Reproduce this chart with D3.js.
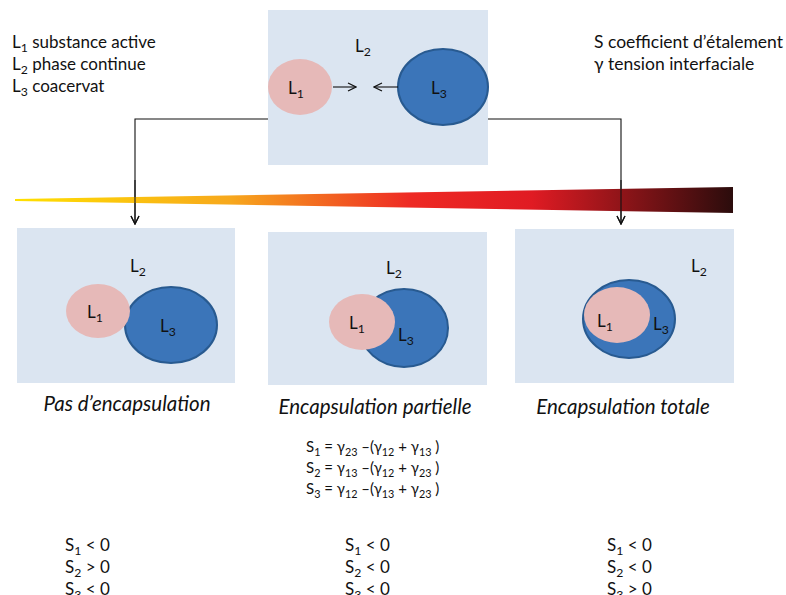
<!DOCTYPE html>
<html>
<head>
<meta charset="utf-8">
<script src="https://cdn.jsdelivr.net/npm/d3@7"></script>
<style>
  body { margin: 0; background: #fff; }
  svg text { font-family: Lato, "Open Sans", sans-serif; fill: #111; }
</style>
</head>
<body>
<div id="chart"></div>
<script>
// text content
const legendLeft = ["L_1 substance active", "L_2 phase continue", "L_3 coacervat"];
const legendRight = ["S coefficient d\u2019étalement", "\u03b3 tension interfaciale"];
const captions = ["Pas d\u2019encapsulation", "Encapsulation partielle", "Encapsulation totale"];
const equations = [
  "S_1 = \u03b3_23 \u2013(\u03b3_12 + \u03b3_13 )",
  "S_2 = \u03b3_13 \u2013(\u03b3_12 + \u03b3_23 )",
  "S_3 = \u03b3_12 \u2013(\u03b3_13 + \u03b3_23 )"
];
const conditions = [
  ["S_1 < 0", "S_2 > 0", "S_3 < 0"],
  ["S_1 < 0", "S_2 < 0", "S_3 < 0"],
  ["S_1 < 0", "S_2 < 0", "S_3 > 0"]
];
const gradientStops = [
  ["0%", "#ffe000"], ["30%", "#f7a81d"], ["55%", "#ee2a24"],
  ["72%", "#e01b23"], ["100%", "#2b0c0c"]
];

// layout (pixel positions of the drawing)
const topPanel = { x: 268, y: 10, w: 220, h: 155,
  l1: [300, 87, 32, 28], l3: [443, 87, 45, 38], l2: [355, 52] };
const panels = [
  { x: 17, y: 228, w: 218, h: 155, l1: [98, 311, 32, 27], l3: [171, 325, 46, 38],
    l2: [130, 272], t1: [87, 318], t3: [160, 332], cap: [127, 411] },
  { x: 268, y: 232, w: 219, h: 153, l1: [362, 322, 33, 28], l3: [404, 328, 44, 39],
    l2: [386, 274], t1: [349, 329], t3: [398, 341], cap: [375, 414] },
  { x: 515, y: 229, w: 219, h: 154, l1: [617, 315, 33, 28], l3: [629, 319, 46, 39],
    l2: [691, 272], t1: [597, 327], t3: [653, 330], cap: [623, 414] }
];

const W = 786, H = 595;
const svg = d3.select("#chart").append("svg").attr("width", W).attr("height", H);
const defs = svg.append("defs");

defs.append("marker")
  .attr("id", "arr").attr("viewBox", "0 0 10 10")
  .attr("refX", 9).attr("refY", 5)
  .attr("markerWidth", 10).attr("markerHeight", 10)
  .attr("markerUnits", "userSpaceOnUse")
  .attr("orient", "auto")
  .append("path").attr("d", "M1,1 L9,5 L1,9")
  .attr("fill", "none").attr("stroke", "#111").attr("stroke-width", 1.2);

const grad = defs.append("linearGradient").attr("id", "wedge")
  .attr("x1", "0%").attr("x2", "100%");
grad.selectAll("stop").data(gradientStops).join("stop")
  .attr("offset", d => d[0]).attr("stop-color", d => d[1]);

// writes "X_12" as X with subscript 12
function rich(sel, str, size) {
  const parts = str.split(/_(\d+)/);
  let shifted = false;
  parts.forEach((p, i) => {
    if (p === "") return;
    if (i % 2 === 1) {
      sel.append("tspan").attr("dy", 4).attr("font-size", size * 0.72).text(p);
      shifted = true;
    } else {
      sel.append("tspan").attr("dy", shifted ? -4 : 0).attr("font-size", size).text(p);
      shifted = false;
    }
  });
}

function label(x, y, str, size, anchor) {
  const t = svg.append("text").attr("x", x).attr("y", y)
    .attr("font-size", size).attr("text-anchor", anchor || "start");
  rich(t, str, size);
  return t;
}

function drop(p, l1, l3) {
  svg.append("rect").attr("x", p.x).attr("y", p.y).attr("width", p.w).attr("height", p.h)
    .attr("fill", "#dbe5f1");
  svg.append("ellipse").attr("cx", l3[0]).attr("cy", l3[1]).attr("rx", l3[2]).attr("ry", l3[3])
    .attr("fill", "#3b75b9").attr("stroke", "#285a90").attr("stroke-width", 2);
  svg.append("ellipse").attr("cx", l1[0]).attr("cy", l1[1]).attr("rx", l1[2]).attr("ry", l1[3])
    .attr("fill", "#e6b9b8");
}

const line = d3.line();
function arrow(pts) {
  svg.append("path").attr("d", line(pts))
    .attr("fill", "none").attr("stroke", "#111").attr("stroke-width", 1.1)
    .attr("marker-end", "url(#arr)");
}

// connector lines from top panel
arrow([[topPanel.x, 119], [135, 119], [135, 224]]);
arrow([[topPanel.x + topPanel.w, 119], [621, 119], [621, 224]]);

// gradient wedge, with the connectors drawn over it
svg.append("path").attr("d", line([[15, 199], [733, 187], [733, 213], [15, 201]]) + "Z")
  .attr("fill", "url(#wedge)");
arrow([[135, 180], [135, 224]]);
arrow([[621, 180], [621, 224]]);

// top panel
drop(topPanel, topPanel.l1, topPanel.l3);
arrow([[333, 87], [356, 87]]);
arrow([[398, 87], [374, 87]]);
label(topPanel.l2[0], topPanel.l2[1], "L_2", 17);
label(288, 94, "L_1", 17);
label(431, 94, "L_3", 17);

// legends
legendLeft.forEach((s, i) => label(12, 48 + i * 22, s, 17));
legendRight.forEach((s, i) => label(594, 48 + i * 22, s, 17.5));

// bottom panels
panels.forEach((p, i) => {
  drop(p, p.l1, p.l3);
  label(p.l2[0], p.l2[1], "L_2", 17);
  label(p.t1[0], p.t1[1], "L_1", 17);
  label(p.t3[0], p.t3[1], "L_3", 17);
  svg.append("text").attr("x", p.cap[0]).attr("y", p.cap[1])
    .attr("text-anchor", "middle").attr("font-size", 20.5).attr("font-style", "italic")
    .text(captions[i]);
});

// equations
equations.forEach((s, i) => label(306, 452 + i * 21, s, 15));

// conditions
const colX = [65, 345, 607];
conditions.forEach((col, c) => col.forEach((s, i) =>
  label(colX[c], 551 + i * 22, s, 17)));
</script>
</body>
</html>
